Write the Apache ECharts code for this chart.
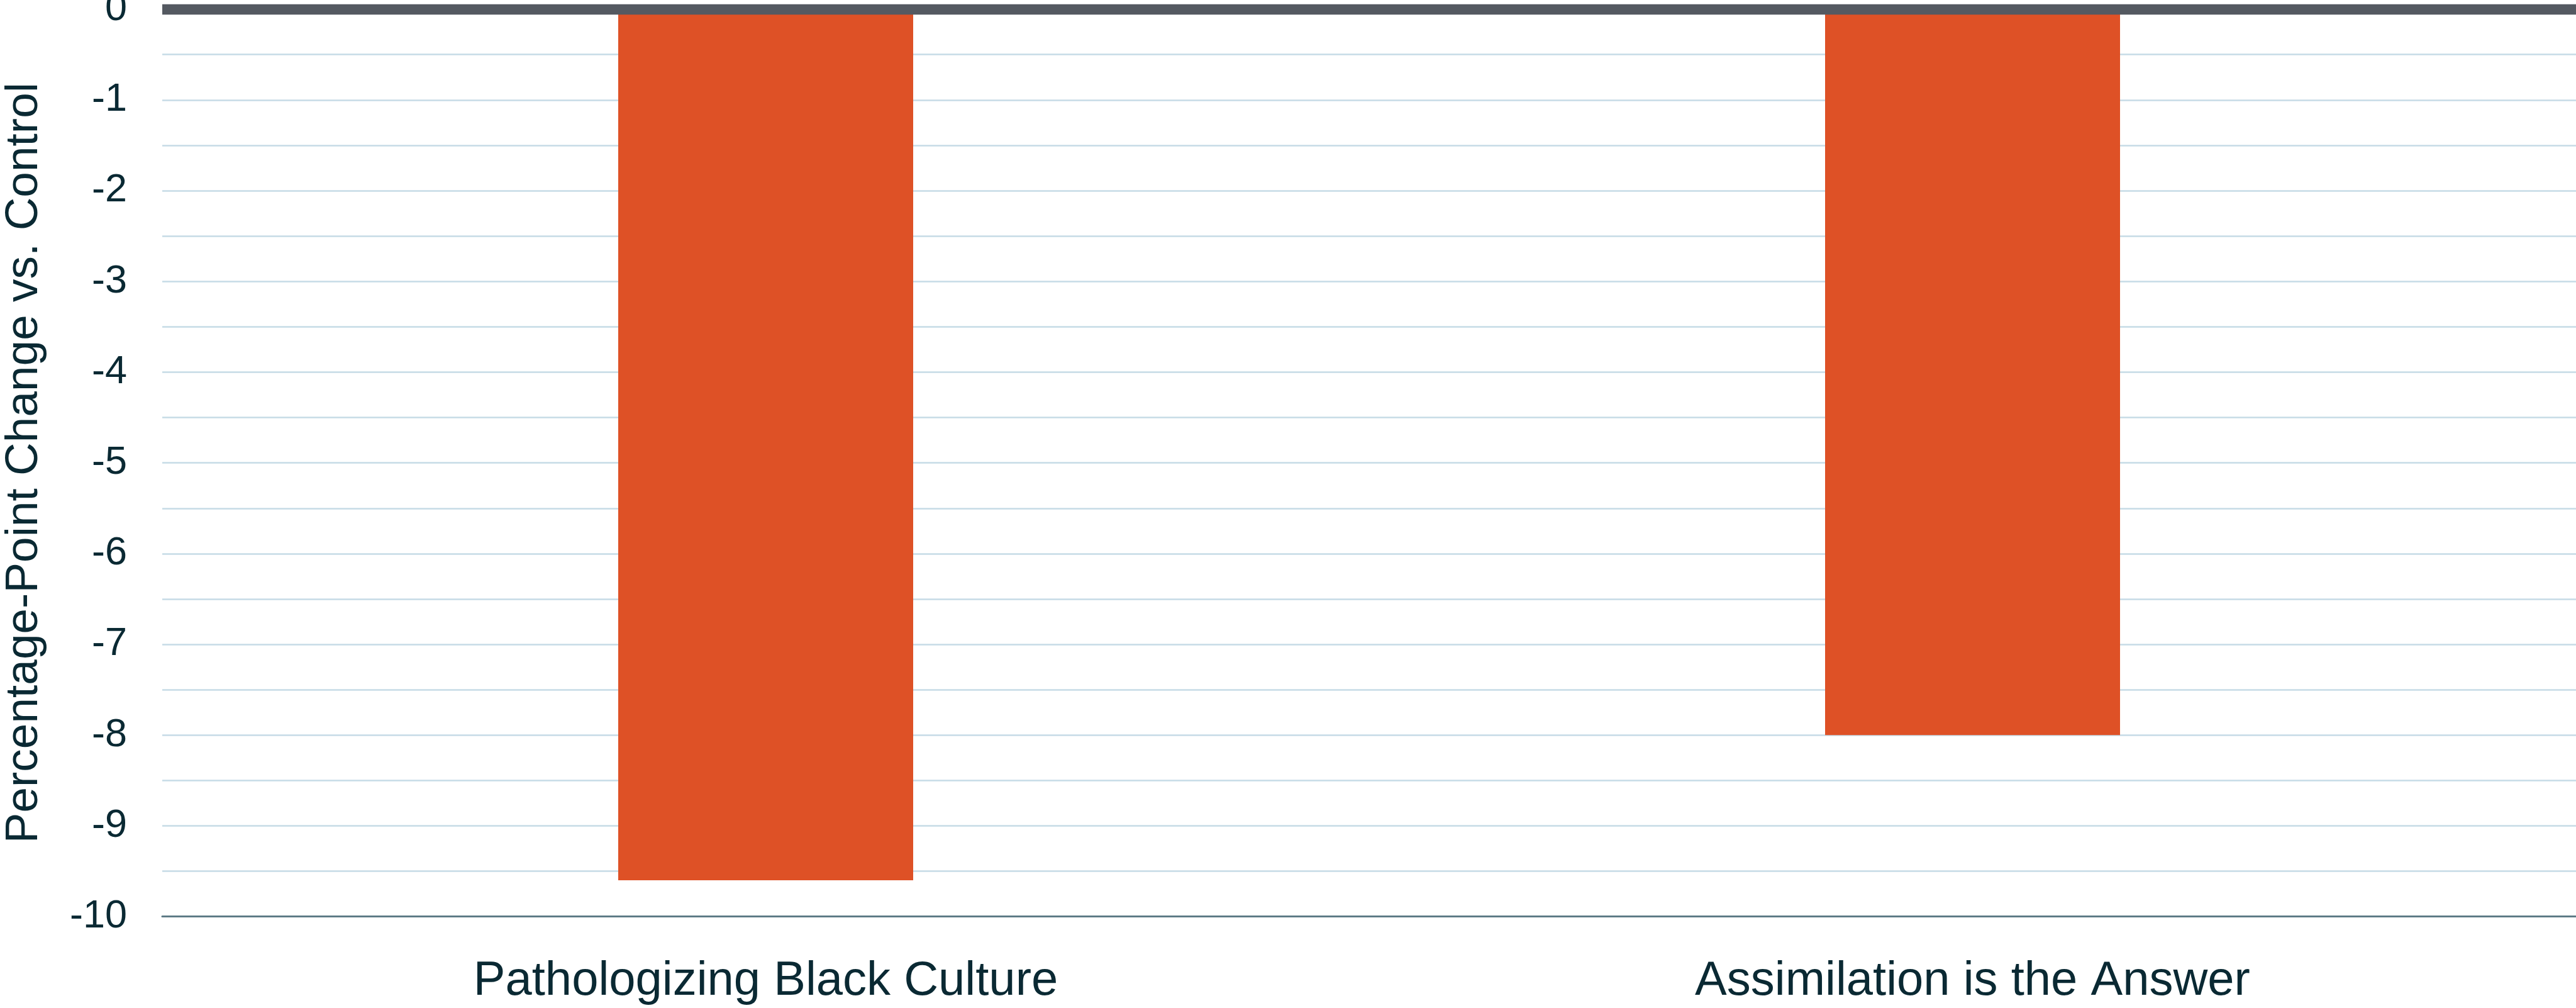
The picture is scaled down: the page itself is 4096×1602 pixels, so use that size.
<!DOCTYPE html>
<html>
<head>
<meta charset="utf-8">
<script src="https://cdn.jsdelivr.net/npm/echarts@6/dist/echarts.min.js"></script>
<style>
html,body{margin:0;padding:0;background:#ffffff;}
#chart{width:4096px;height:1602px;}
</style>
</head>
<body>
<div id="chart"></div>
<script>
const categories = ['Pathologizing Black Culture', 'Assimilation is the Answer'];
const values = [-9.6, -8.0];
const yMin = -10;
const yMax = 0;
const yStep = 0.5;
const yTitle = 'Percentage-Point Change vs. Control';

const textColor = '#0a2933';
const chart = echarts.init(document.getElementById('chart'), null, {renderer: 'canvas'});
chart.setOption({
  backgroundColor: '#ffffff',
  animation: false,
  grid: {left: 258, right: 0, top: 14.6, bottom: 145.3, containLabel: false, outerBoundsMode: 'none'},
  xAxis: {
    type: 'category',
    data: categories,
    position: 'bottom',
    axisLine: {onZero: false, lineStyle: {color: '#5e7b86', width: 3}},
    axisTick: {show: false},
    splitLine: {show: false},
    axisLabel: {
      color: textColor, fontSize: 76, fontFamily: 'Liberation Sans, Arial, sans-serif',
      margin: 65, interval: 0
    }
  },
  yAxis: {
    type: 'value',
    min: yMin, max: yMax, interval: yStep,
    name: yTitle,
    nameLocation: 'middle',
    nameGap: 183,
    nameRotate: 90,
    nameTextStyle: {color: textColor, fontSize: 73, fontFamily: 'Liberation Sans, Arial, sans-serif'},
    axisLine: {show: false},
    axisTick: {show: false},
    splitLine: {show: true, lineStyle: {color: '#c6dbe6', width: 2.5}},
    axisLabel: {
      color: textColor, fontSize: 63, fontFamily: 'Liberation Sans, Arial, sans-serif',
      margin: 56, padding: [9, 0, 0, 0],
      formatter: function (v) {
        return Math.abs(v - Math.round(v)) < 1e-6 ? String(Math.round(v)) : '';
      }
    }
  },
  series: [{
    type: 'bar',
    data: values,
    barWidth: 469,
    itemStyle: {color: '#de5126'},
    markLine: {
      silent: true,
      symbol: ['none', 'none'],
      label: {show: false},
      lineStyle: {color: '#545961', width: 16.4, type: 'solid'},
      data: [{yAxis: 0}]
    }
  }]
});
</script>
</body>
</html>
